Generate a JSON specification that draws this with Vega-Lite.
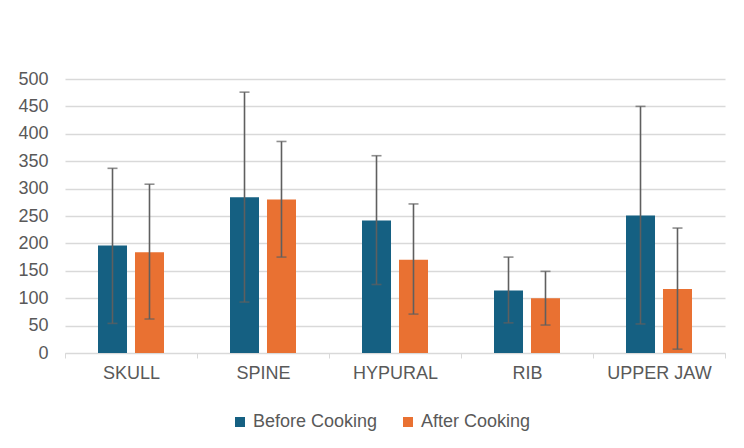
{
  "$schema": "https://vega.github.io/schema/vega-lite/v6.json",
  "width": 660,
  "height": 274,
  "autosize": {"type": "none"},
  "padding": {"left": 65, "top": 79, "right": 19, "bottom": 95},
  "background": "white",
  "config": {
    "view": {"stroke": null},
    "font": "Liberation Sans",
    "axis": {"labelFont": "Liberation Sans", "labelColor": "#595959", "labelFontSize": 18, "title": null},
    "legend": {"labelFont": "Liberation Sans", "labelColor": "#595959", "labelFontSize": 18}
  },
  "data": {
    "values": [
      {"bone": "SKULL", "group": "Before Cooking", "mean": 196, "lo": 54, "hi": 337},
      {"bone": "SKULL", "group": "After Cooking", "mean": 184, "lo": 62, "hi": 308},
      {"bone": "SPINE", "group": "Before Cooking", "mean": 284, "lo": 93, "hi": 476},
      {"bone": "SPINE", "group": "After Cooking", "mean": 280, "lo": 175, "hi": 386},
      {"bone": "HYPURAL", "group": "Before Cooking", "mean": 242, "lo": 125, "hi": 360},
      {"bone": "HYPURAL", "group": "After Cooking", "mean": 170, "lo": 71, "hi": 272},
      {"bone": "RIB", "group": "Before Cooking", "mean": 114, "lo": 55, "hi": 175},
      {"bone": "RIB", "group": "After Cooking", "mean": 100, "lo": 51, "hi": 149},
      {"bone": "UPPER JAW", "group": "Before Cooking", "mean": 251, "lo": 53, "hi": 450},
      {"bone": "UPPER JAW", "group": "After Cooking", "mean": 117, "lo": 7, "hi": 228}
    ]
  },
  "encoding": {
    "x": {
      "field": "bone", "type": "nominal", "sort": null,
      "scale": {"paddingInner": 0, "paddingOuter": 0},
      "axis": {"labelAngle": 0, "tickBand": "extent", "domainColor": "#d9d9d9", "tickColor": "#d9d9d9", "tickSize": 5, "labelPadding": 6, "grid": false}
    },
    "xOffset": {
      "field": "group", "type": "nominal", "sort": ["Before Cooking", "After Cooking"],
      "scale": {"paddingInner": 0.216, "paddingOuter": 0.892}
    },
    "y": {
      "field": "mean", "type": "quantitative",
      "scale": {"domain": [0, 500], "nice": false},
      "axis": {"title": null, "values": [0, 50, 100, 150, 200, 250, 300, 350, 400, 450, 500], "domain": false, "ticks": false, "labelPadding": 17, "gridColor": "#d9d9d9", "gridWidth": 1.3, "labelOverlap": false}
    }
  },
  "layer": [
    {
      "mark": {"type": "bar"},
      "encoding": {
        "color": {
          "field": "group", "type": "nominal",
          "scale": {"domain": ["Before Cooking", "After Cooking"], "range": ["#156082", "#e97132"]},
          "legend": {"title": null, "orient": "none", "direction": "horizontal", "legendX": 166, "legendY": 334, "symbolType": "square", "symbolSize": 100, "symbolStrokeWidth": 0, "labelOffset": 4, "columnPadding": 21}
        }
      }
    },
    {
      "mark": {"type": "errorbar", "ticks": {"size": 10, "thickness": 1.6, "color": "#5f5f5f"}, "rule": {"strokeWidth": 1.6, "color": "#5f5f5f"}},
      "encoding": {
        "y": {"field": "lo", "type": "quantitative", "scale": {"domain": [0, 500], "nice": false}, "axis": {"title": null, "values": [0, 50, 100, 150, 200, 250, 300, 350, 400, 450, 500], "domain": false, "ticks": false, "labelPadding": 17, "gridColor": "#d9d9d9", "gridWidth": 1.3, "labelOverlap": false}},
        "y2": {"field": "hi"}
      }
    }
  ]
}
